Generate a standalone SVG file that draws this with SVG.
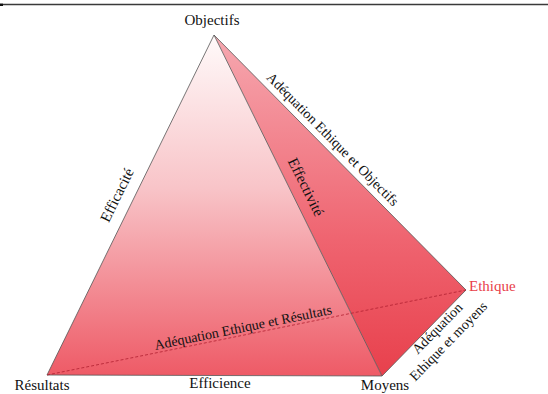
<svg xmlns="http://www.w3.org/2000/svg" width="548" height="394" viewBox="0 0 548 394">
<defs>
<linearGradient id="gFront" x1="0" y1="35" x2="0" y2="376" gradientUnits="userSpaceOnUse">
<stop offset="0" stop-color="#fffafa"/>
<stop offset="0.45" stop-color="#f8c4c8"/>
<stop offset="1" stop-color="#ee5a66"/>
</linearGradient>
<linearGradient id="gSide" x1="0" y1="35" x2="0" y2="376" gradientUnits="userSpaceOnUse">
<stop offset="0" stop-color="#f6a8b0"/>
<stop offset="0.6" stop-color="#ef6470"/>
<stop offset="1" stop-color="#e8404c"/>
</linearGradient>
<style>
.lbl{font-family:"Liberation Serif","DejaVu Serif","Times New Roman",serif;font-size:15px;fill:#111;}
.edge-lbl{font-family:"Liberation Serif","DejaVu Serif","Times New Roman",serif;font-size:14px;fill:#111;text-anchor:middle;}
.edge{stroke:#555;stroke-width:0.8;fill:none;}
</style>
</defs>
<rect x="0" y="0" width="548" height="394" fill="#fff"/>
<line x1="3" y1="4.5" x2="548" y2="4.5" stroke="#3a3a3a" stroke-width="1.3"/>
<rect x="0" y="3.5" width="3" height="2.5" fill="#111"/>

<g id="face-ethique">
<polygon points="214,35 466,290 382,376" fill="url(#gSide)"/>
</g>
<g id="face-front">
<polygon points="214,35 47,375 382,376" fill="url(#gFront)"/>
</g>

<g id="connectors">
<line class="edge" x1="214" y1="35" x2="47" y2="375"/>
<line class="edge" x1="214" y1="35" x2="382" y2="376"/>
<line class="edge" x1="47" y1="375" x2="382" y2="376"/>
<line class="edge" x1="214" y1="35" x2="466" y2="290"/>
<line class="edge" x1="382" y1="376" x2="466" y2="290"/>
<line x1="47" y1="375" x2="466" y2="290" stroke="#b02030" stroke-width="0.8" stroke-dasharray="3,2"/>
</g>

<g id="node-objectifs"><text class="lbl" x="212" y="25" text-anchor="middle">Objectifs</text></g>
<g id="node-resultats"><text class="lbl" x="42" y="390" text-anchor="middle">Résultats</text></g>
<g id="node-moyens"><text class="lbl" x="385" y="390" text-anchor="middle">Moyens</text></g>
<g id="node-ethique"><text class="lbl" x="469" y="291" style="fill:#e8404a">Ethique</text></g>

<g id="labels">
<text class="lbl" x="220" y="388" text-anchor="middle">Efficience</text>
<text class="edge-lbl" style="font-size:15px" transform="translate(117,195) rotate(-63.8)" y="5">Efficacité</text>
<text class="edge-lbl" style="font-size:15px" transform="translate(306,187) rotate(63.8)" y="5">Effectivité</text>
<text class="edge-lbl" transform="translate(333,139) rotate(45.3)" y="5">Adéquation Ethique et Objectifs</text>
<text class="edge-lbl" transform="translate(243,327) rotate(-11.5)" y="5">Adéquation Ethique et Résultats</text>
<text class="edge-lbl" transform="translate(437,328) rotate(-45.7)" y="5">Adéquation</text>
<text class="edge-lbl" transform="translate(448,341) rotate(-45.7)" y="5">Ethique et moyens</text>
</g>
</svg>
